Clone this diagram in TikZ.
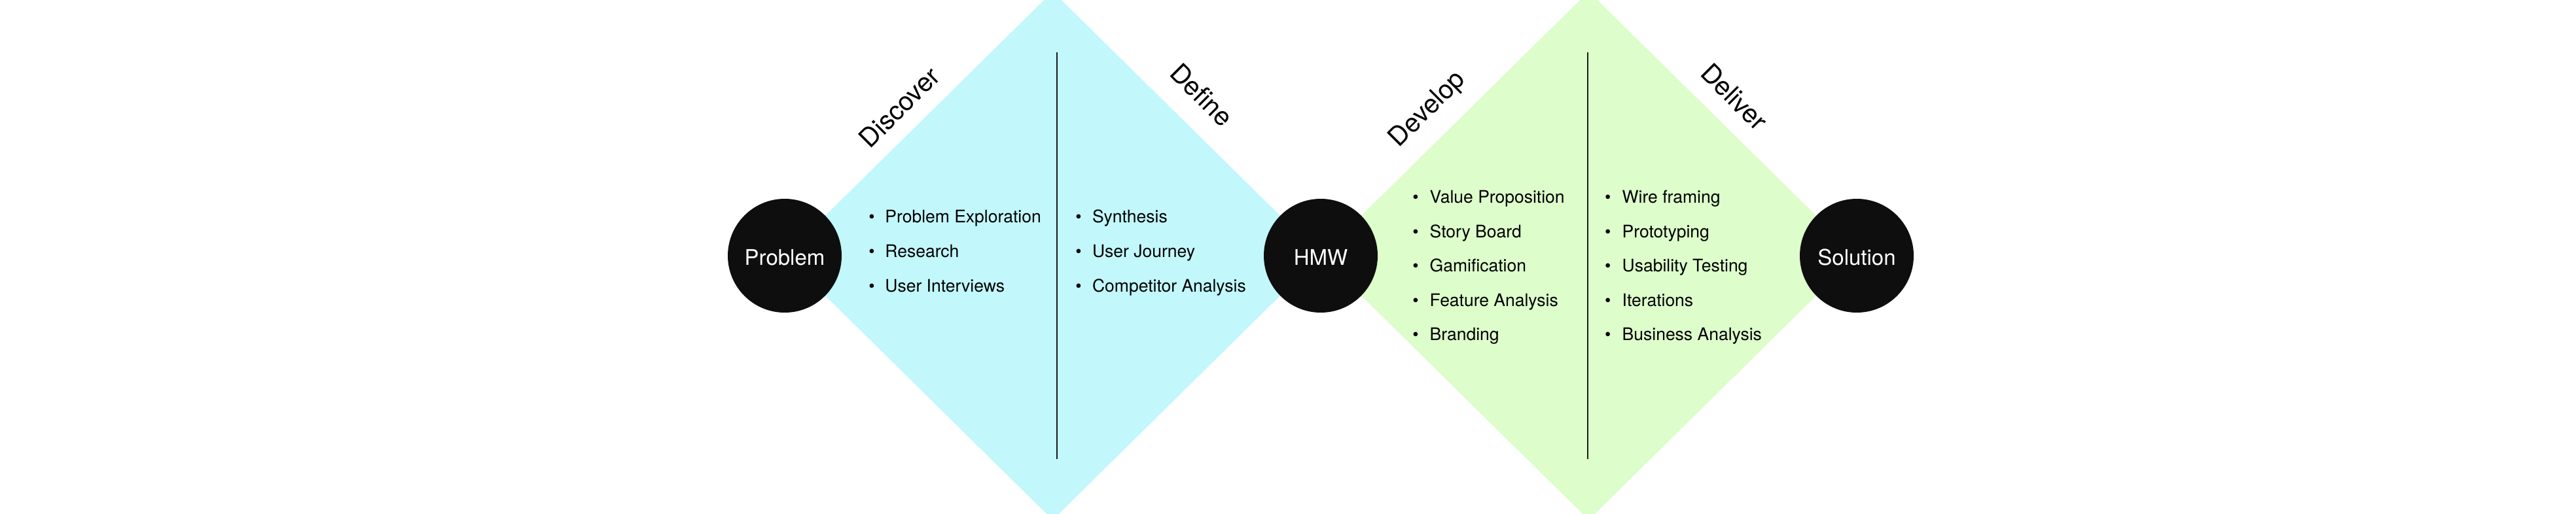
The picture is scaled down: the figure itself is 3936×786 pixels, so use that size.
\documentclass[tikz,border=0pt]{standalone}
\usepackage{fontspec}
\setmainfont{TeX Gyre Heros}
\definecolor{cyanfill}{HTML}{C2F7FB}
\definecolor{greenfill}{HTML}{DDFDCB}
\definecolor{stagefill}{HTML}{0E0E0E}
\definecolor{divcol}{HTML}{1A1A1A}
\begin{document}
\begin{tikzpicture}[x=0.5pt,y=-0.5pt,
  stage/.style={circle, fill=stagefill, minimum size=87pt, inner sep=0pt},
  stagelbl/.style={inner sep=0pt, text=white, font=\fontsize{16.5}{18}\selectfont, text height=11.85pt, text depth=0pt},
  heading/.style={inner sep=0pt, font=\fontsize{20}{23}\selectfont, text height=14.3pt, text depth=0pt},
  item/.style={anchor=base west, inner sep=0pt, font=\fontsize{13.25}{15}\selectfont},
  bul/.style={anchor=base, inner sep=0pt, font=\fontsize{13.25}{15}\selectfont},
  divider/.style={draw=divcol, line width=1pt}]
\useasboundingbox (0,0) rectangle (3936,786);
\clip (0,0) rectangle (3936,786);
% anchor points of the two diamonds
\coordinate (p) at (1199,391);
\coordinate (h) at (2018,391);
\coordinate (s) at (2837,391);
\coordinate (t1) at (1608.5,-13);
\coordinate (b1) at (1608.5,795);
\coordinate (t2) at (2427.5,-13);
\coordinate (b2) at (2427.5,795);
\fill[cyanfill] (p) -- (t1) -- (h) -- (b1) -- cycle;
\fill[greenfill] (h) -- (t2) -- (s) -- (b2) -- cycle;
% dividers
\coordinate (d1top) at (1614.5,80);
\coordinate (d1bot) at (1614.5,702);
\coordinate (d2top) at (2425.5,80);
\coordinate (d2bot) at (2425.5,702);
\draw[divider] (d1top) -- (d1bot);
\draw[divider] (d2top) -- (d2bot);
% stages
\node[stage] (problem) at (p) {};
\node[stage] (hmw) at (h) {};
\node[stage] (solution) at (s) {};
\node[stagelbl] (problemlbl) at (1199,394) {Problem};
\node[stagelbl] (hmwlbl) at (2018,394) {HMW};
\node[stagelbl] (solutionlbl) at (2837,394) {Solution};
% headings
\node[heading, rotate=45] (discover) at (1374,164) {Discover};
\node[heading, rotate=-45] (define) at (1836,145) {Define};
\node[heading, rotate=45] (develop) at (2179,165) {Develop};
\node[heading, rotate=-45] (deliver) at (2650,148) {Deliver};
% lists
\foreach \t [count=\i] in {Problem Exploration, Research, User Interviews} {
  \node[bul] (disb\i) at (1332,288+52.7*\i) {\textbullet};
  \node[item] (dis\i) at (1352,288+52.7*\i) {\t};
}
\foreach \t [count=\i] in {Synthesis, User Journey, Competitor Analysis} {
  \node[bul] (defb\i) at (1648,288+52.7*\i) {\textbullet};
  \node[item] (def\i) at (1668.6,288+52.7*\i) {\t};
}
\foreach \t [count=\i] in {Value Proposition, Story Board, Gamification, Feature Analysis, Branding} {
  \node[bul] (devb\i) at (2163,258.2+52.5*\i) {\textbullet};
  \node[item] (dev\i) at (2184.3,258.2+52.5*\i) {\t};
}
\foreach \t [count=\i] in {Wire framing, Prototyping, Usability Testing, Iterations, Business Analysis} {
  \node[bul] (delb\i) at (2456.7,258.2+52.5*\i) {\textbullet};
  \node[item] (del\i) at (2478.3,258.2+52.5*\i) {\t};
}
\end{tikzpicture}
\end{document}
